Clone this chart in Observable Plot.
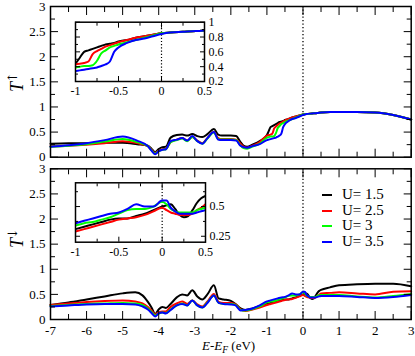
<!DOCTYPE html>
<html><head><meta charset="utf-8">
<script src="https://cdn.jsdelivr.net/npm/d3@7"></script>
<script src="https://cdn.jsdelivr.net/npm/@observablehq/plot@0.6"></script>
<style>
body{margin:0;background:#fff}
#chart{position:relative;width:415px;height:356px;overflow:hidden;font-family:"Liberation Serif","Times New Roman",serif;color:#000}
#chart svg{position:absolute;background:transparent !important;overflow:visible !important}
#chart svg.mainp, #chart svg.mainp text{font-family:"Liberation Serif","Times New Roman",serif !important;font-size:13px !important;fill:#000}
#chart svg.insetp, #chart svg.insetp text{font-family:"Liberation Serif","Times New Roman",serif !important;font-size:12px !important;fill:#000}
.ytitle{position:absolute;transform:translate(-50%,-50%) rotate(-90deg);font-size:18px;line-height:1;white-space:nowrap}
.ytitle sup{font-size:13px;font-style:normal;font-family:"DejaVu Serif",serif;vertical-align:0.45em;margin-left:-1px}
.xtitle{position:absolute;font-size:13px;line-height:1;white-space:nowrap}
.xtitle sub{font-size:9.5px;vertical-align:-0.3em}
.leg{position:absolute;font-size:15px;line-height:1;white-space:nowrap}
.leg span.sw{position:absolute;left:0;top:7px;width:10px;height:2px}
.leg span.tx{position:absolute;left:20px;top:0}
</style></head><body><div id="chart"></div>
<script>
// ---- data ----
const seriesNames = ["U= 1.5", "U= 2.5", "U= 3", "U= 3.5"];
const seriesColors = ["#000000", "#ff0000", "#00ff00", "#0000ff"];

// spin-up transmission T↑ vs E-EF (eV)
const energyUp = [-7, -6.5, -6, -5.5, -5, -4.6, -4.3, -4.2, -4.1, -4.0, -3.9, -3.8, -3.67, -3.5, -3.35, -3.21, -3.07, -2.93, -2.79, -2.65, -2.47, -2.35, -2.25, -2.0, -1.85, -1.75, -1.65, -1.55, -1.4, -1.2, -1.0, -0.95, -0.9, -0.85, -0.8, -0.75, -0.7, -0.65, -0.6, -0.55, -0.5, -0.4, -0.3, -0.2, -0.1, 0, 0.1, 0.25, 0.4, 0.5, 0.75, 1, 1.5, 2, 2.5, 3];
const tUp15 = [0.27,0.28,0.28,0.29,0.29, 0.26,0.23,0.17,0.10,0.16, 0.20,0.21,0.39,0.44,0.45, 0.43,0.46,0.42,0.40,0.46, 0.56,0.45,0.43,0.43,0.42, 0.32,0.23,0.21,0.25,0.32, 0.44,0.52,0.60,0.62,0.64, 0.66,0.68,0.70,0.71,0.72, 0.74,0.76,0.79,0.81,0.83, 0.85,0.86,0.87,0.88,0.89, 0.90,0.90,0.90,0.89,0.84, 0.75];
const tUp25 = [0.22,0.23,0.25,0.28,0.32, 0.28,0.22,0.15,0.08,0.13, 0.16,0.17,0.30,0.35,0.38, 0.33,0.40,0.33,0.28,0.38, 0.50,0.38,0.36,0.36,0.35, 0.28,0.21,0.19,0.23,0.30, 0.43,0.44,0.45,0.47,0.57, 0.61,0.64,0.67,0.69,0.71, 0.73,0.76,0.79,0.81,0.83, 0.85,0.86,0.87,0.88,0.89, 0.90,0.90,0.90,0.89,0.84, 0.75];
const tUp30 = [0.21,0.23,0.26,0.31,0.36, 0.30,0.22,0.14,0.07,0.12, 0.15,0.16,0.30,0.34,0.37, 0.32,0.40,0.32,0.27,0.37, 0.49,0.36,0.35,0.35,0.34, 0.25,0.18,0.17,0.21,0.27, 0.39,0.40,0.41,0.41,0.42, 0.48,0.58,0.62,0.66,0.68, 0.70,0.73,0.76,0.79,0.82, 0.85,0.86,0.87,0.88,0.89, 0.90,0.90,0.90,0.89,0.84, 0.75];
const tUp35 = [0.21,0.24,0.28,0.34,0.41, 0.33,0.22,0.13,0.06,0.12, 0.15,0.16,0.32,0.35,0.38, 0.33,0.42,0.32,0.27,0.38, 0.50,0.35,0.34,0.34,0.33, 0.24,0.20,0.19,0.22,0.26, 0.34,0.35,0.36,0.37,0.38, 0.39,0.41,0.43,0.47,0.60, 0.66,0.72,0.76,0.78,0.81, 0.84,0.86,0.87,0.88,0.89, 0.90,0.90,0.90,0.89,0.84, 0.75];

// spin-down transmission T↓ vs E-EF (eV)
const energyDn = [-7, -6.5, -6, -5.5, -5, -4.65, -4.45, -4.3, -4.2, -4.1, -4.0, -3.9, -3.8, -3.67, -3.5, -3.35, -3.21, -3.07, -2.93, -2.79, -2.65, -2.47, -2.34, -2.2, -2.0, -1.87, -1.73, -1.6, -1.4, -1.2, -1.0, -0.9, -0.8, -0.7, -0.6, -0.5, -0.4, -0.3, -0.2, -0.1, 0, 0.05, 0.1, 0.15, 0.2, 0.25, 0.3, 0.35, 0.4, 0.45, 0.5, 0.75, 1, 1.5, 2, 2.5, 3];
const tDn15 = [0.29,0.34,0.40,0.46,0.52, 0.54,0.48,0.35,0.24,0.11, 0.20,0.25,0.23,0.31,0.44, 0.50,0.48,0.58,0.46,0.40, 0.50,0.68,0.42,0.40,0.37, 0.31,0.22,0.19,0.22,0.27, 0.31,0.33,0.35,0.37,0.39, 0.40,0.40,0.42,0.44,0.47, 0.50,0.51,0.52,0.48,0.43, 0.41,0.42,0.47,0.53,0.57, 0.59,0.64,0.68,0.70,0.71, 0.71,0.66];
const tDn25 = [0.29,0.32,0.35,0.37,0.38, 0.36,0.32,0.25,0.18,0.10, 0.14,0.16,0.16,0.25,0.32, 0.36,0.31,0.38,0.30,0.26, 0.36,0.51,0.35,0.33,0.33, 0.30,0.20,0.17,0.20,0.24, 0.29,0.31,0.33,0.35,0.37, 0.39,0.40,0.41,0.43,0.46, 0.49,0.47,0.45,0.44,0.43, 0.43,0.43,0.44,0.47,0.49, 0.52,0.53,0.54,0.52,0.50, 0.55,0.56];
const tDn30 = [0.27,0.29,0.31,0.32,0.33, 0.32,0.29,0.22,0.15,0.08, 0.12,0.14,0.13,0.20,0.28, 0.32,0.28,0.38,0.28,0.24, 0.34,0.48,0.33,0.31,0.31, 0.29,0.19,0.18,0.21,0.26, 0.34,0.36,0.37,0.39,0.41, 0.44,0.47,0.48,0.48,0.50, 0.54,0.52,0.48,0.46,0.45, 0.45,0.45,0.45,0.47,0.48, 0.49,0.49,0.49,0.46,0.44, 0.47,0.51];
const tDn35 = [0.26,0.28,0.30,0.31,0.31, 0.30,0.26,0.20,0.13,0.06, 0.12,0.14,0.12,0.19,0.28, 0.31,0.28,0.38,0.28,0.24, 0.33,0.48,0.33,0.31,0.30, 0.28,0.18,0.19,0.22,0.28, 0.36,0.38,0.40,0.42,0.44, 0.45,0.48,0.52,0.50,0.50, 0.55,0.55,0.49,0.46,0.44, 0.44,0.44,0.44,0.45,0.46, 0.47,0.47,0.47,0.45,0.43, 0.45,0.49];

// axis ticks
const mainXTicks = [-7, -6, -5, -4, -3, -2, -1, 0, 1, 2, 3];
const mainXMinor = [-6.5, -5.5, -4.5, -3.5, -2.5, -1.5, -0.5, 0.5, 1.5, 2.5];
const mainYTicks = [0, 0.5, 1, 1.5, 2, 2.5, 3];
const mainYMinor = [0.25, 0.75, 1.25, 1.75, 2.25, 2.75];
const insetXTicks = [-1, -0.5, 0, 0.5];
const insetXMinor = [-0.75, -0.25, 0.25];
const insetUpYTicks = [0.2, 0.4, 0.6, 0.8, 1];
const insetUpYMinor = [0.3, 0.5, 0.7, 0.9];
const insetDnYTicks = [0.25, 0.5];
const insetDnYMinor = [0.375, 0.625];

// ---- build ----
function table(energy, cols) {
  const rows = [];
  cols.forEach((vals, i) => vals.forEach((v, j) => rows.push({e: energy[j], t: v, s: seriesNames[i]})));
  return rows;
}
const upRows = table(energyUp, [tUp15, tUp25, tUp30, tUp35]);
const dnRows = table(energyDn, [tDn15, tDn25, tDn30, tDn35]);

const chart = document.getElementById("chart");
const color = {domain: seriesNames, range: seriesColors};
const SERIF = "'Liberation Serif', 'Times New Roman', serif";
const fmt = d => String(d);

function boxAxes(xMaj, xMin, yMaj, yMin, big, small) {
  const m = [];
  const sw = 1;
  for (const [ticks, len] of [[xMaj, big], [xMin, small]]) {
    m.push(Plot.axisX({ticks, anchor: "bottom", tickSize: len, dy: -len, fill: "none", label: null, strokeWidth: sw}));
    m.push(Plot.axisX({ticks, anchor: "top", tickSize: len, dy: len, fill: "none", label: null, strokeWidth: sw}));
  }
  for (const [ticks, len] of [[yMaj, big], [yMin, small]]) {
    m.push(Plot.axisY({ticks, anchor: "left", tickSize: len, dx: len, fill: "none", label: null, strokeWidth: sw}));
    m.push(Plot.axisY({ticks, anchor: "right", tickSize: len, dx: -len, fill: "none", label: null, strokeWidth: sw}));
  }
  return m;
}

function place(svg, cls, size, left, top) {
  svg.classList.add(cls);
  svg.setAttribute("font-family", SERIF);
  svg.setAttribute("font-size", size);
  svg.querySelectorAll("g, text").forEach(el => {
    if (el.hasAttribute("font-family")) el.setAttribute("font-family", SERIF);
    if (el.hasAttribute("font-size")) el.setAttribute("font-size", size);
  });
  svg.style.left = left + "px";
  svg.style.top = top + "px";
  chart.appendChild(svg);
}

function mainPanel(rows, top, height, mt, mb, xLabels) {
  const svg = Plot.plot({
    width: 415, height,
    marginLeft: 50, marginRight: 4.3, marginTop: mt, marginBottom: mb,
    x: {domain: [-7, 3], label: null},
    y: {domain: [0, 3], label: null},
    color,
    marks: [
      Plot.ruleX([0], {stroke: "#000", strokeWidth: 1.3, strokeDasharray: "1.3,2.2"}),
      Plot.line(rows, {x: "e", y: "t", stroke: "s", z: "s", strokeWidth: 2, curve: "monotone-x"}),
      ...boxAxes(mainXTicks, mainXMinor, mainYTicks, mainYMinor, 8, 5),
      Plot.axisY({ticks: mainYTicks, tickFormat: fmt, anchor: "left", tickSize: 0, tickPadding: 5, label: null, fontFamily: SERIF, fontSize: 13}),
      xLabels ? Plot.axisX({ticks: mainXTicks, tickFormat: fmt, anchor: "bottom", tickSize: 0, tickPadding: 6, label: null, fontFamily: SERIF, fontSize: 13}) : null,
      Plot.frame({stroke: "#000", strokeWidth: 1.5})
    ]
  });
  place(svg, "mainp", 13, 0, top);
}

function insetPanel(rows, left, top, w, h, ml, mr, mt, mb, yDomain, yMaj, yMin) {
  const data = rows.filter(d => d.e >= -1.05 && d.e <= 0.55);
  const svg = Plot.plot({
    width: w, height: h,
    marginLeft: ml, marginRight: mr, marginTop: mt, marginBottom: mb,
    x: {domain: [-1, 0.5], label: null},
    y: {domain: yDomain, label: null},
    color,
    marks: [
      Plot.frame({fill: "white", stroke: null}),
      Plot.ruleX([0], {stroke: "#000", strokeWidth: 1.2, strokeDasharray: "1.2,2"}),
      Plot.line(data, {x: "e", y: "t", stroke: "s", z: "s", strokeWidth: 2, curve: "monotone-x", clip: true}),
      ...boxAxes(insetXTicks, insetXMinor, yMaj, yMin, 5, 3),
      Plot.axisY({ticks: yMaj, tickFormat: fmt, anchor: "right", tickSize: 0, tickPadding: 4, label: null, fontFamily: SERIF, fontSize: 12}),
      Plot.axisX({ticks: insetXTicks, tickFormat: fmt, anchor: "bottom", tickSize: 0, tickPadding: 5, label: null, fontFamily: SERIF, fontSize: 12}),
      Plot.frame({stroke: "#000", strokeWidth: 1.5})
    ]
  });
  place(svg, "insetp", 12, left, top);
}

mainPanel(upRows, 0, 165, 6, 8.3, false);
mainPanel(dnRows, 160, 196, 8.3, 37, true);
insetPanel(upRows, 60, 10, 175, 90, 15, 31, 11.7, 19, [0.2, 1], insetUpYTicks, insetUpYMinor);
insetPanel(dnRows, 60, 172, 175, 90, 15, 30, 10.3, 20.3, [0.2, 0.7], insetDnYTicks, insetDnYMinor);

// axis titles
function addDiv(cls, html, left, top) {
  const d = document.createElement("div");
  d.className = cls;
  d.innerHTML = html;
  d.style.left = left + "px";
  d.style.top = top + "px";
  chart.appendChild(d);
  return d;
}
addDiv("ytitle", "<i>T</i><sup>↑</sup>", 16, 82);
addDiv("ytitle", "<i>T</i><sup>↓</sup>", 16, 238);
addDiv("xtitle", "<i>E</i>-<i>E</i><sub><i>F</i></sub> (eV)", 202, 339);

// legend
const legendTop = [186.5, 202.5, 218, 234];
seriesNames.forEach((name, i) => {
  const d = addDiv("leg", "", 322, legendTop[i]);
  d.innerHTML = `<span class="sw" style="background:${seriesColors[i]}"></span><span class="tx">${name}</span>`;
});
</script>
</body></html>
